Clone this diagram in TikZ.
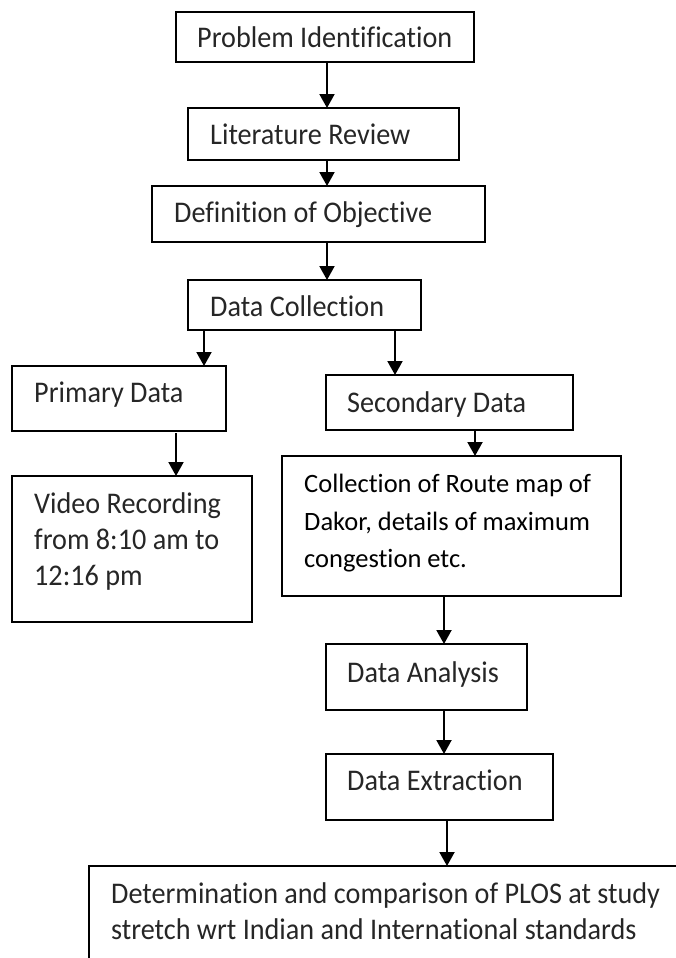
\documentclass[tikz,border=0pt]{standalone}
\usepackage{fontspec}
\setmainfont{Carlito}[FakeStretch=0.94,RawFeature={-liga;-dlig}]
\newfontfamily\calfont{Carlito}[RawFeature={-liga;-dlig}]
\usetikzlibrary{arrows.meta}
\begin{document}
\begin{tikzpicture}[x=1pt,y=-1pt,
  box/.style={draw=black, line width=1.8pt, rectangle, inner sep=0pt, outer sep=0pt, anchor=north west},
  lbl/.style={anchor=base west, inner sep=0pt, text=black!85, font=\fontsize{30}{36}\selectfont},
  lbltwo/.style={anchor=base west, inner sep=0pt, font=\calfont\fontsize{26.5}{37}\selectfont},
  arr/.style={line width=2pt, -{Triangle[length=14pt,width=15pt]}}]
\useasboundingbox (0,0) rectangle (675,958);
% boxes
\node[box, minimum width=298pt, minimum height=50pt] (pi) at (176,12) {};
\node[box, minimum width=271pt, minimum height=52pt] (lr) at (188,108) {};
\node[box, minimum width=333pt, minimum height=56pt] (def) at (152,186) {};
\node[box, minimum width=233pt, minimum height=50pt] (dc) at (188,280) {};
\node[box, minimum width=214pt, minimum height=65pt] (pd) at (12,366) {};
\node[box, minimum width=247pt, minimum height=55pt] (sd) at (326,375) {};
\node[box, minimum width=240pt, minimum height=146pt] (vr) at (12,476) {};
\node[box, minimum width=339pt, minimum height=140pt] (col) at (282,456) {};
\node[box, minimum width=201pt, minimum height=66pt] (da) at (326,644) {};
\node[box, minimum width=227pt, minimum height=66pt] (de) at (326,754) {};
\node[box, minimum width=640pt, minimum height=140pt] (det) at (89,866) {};
% labels
\node[lbl] (tpi) at (197,48) {Problem Identification};
\node[lbl] (tlr) at (210,144) {Literature Review};
\node[lbl] (tdef) at (174,222) {Definition of Objective};
\node[lbl] (tdc) at (210,316) {Data Collection};
\node[lbl] (tpd) at (34,402) {Primary Data};
\node[lbl] (tsd) at (347,412) {Secondary Data};
\node[lbl] (tvr1) at (34,513) {Video Recording};
\node[lbl] (tvr2) at (34,549) {from 8:10 am to};
\node[lbl] (tvr3) at (34,585) {12:16 pm};
\node[lbltwo] (tcol1) at (304,492) {Collection of Route map of};
\node[lbltwo] (tcol2) at (304,530) {Dakor, details of maximum};
\node[lbltwo] (tcol3) at (304,567) {congestion etc.};
\node[lbl] (tda) at (347,682) {Data Analysis};
\node[lbl] (tde) at (347,790) {Data Extraction};
\node[lbl] (tdet1) at (111,903) {Determination and comparison of PLOS at study};
\node[lbl] (tdet2) at (111,939) {stretch wrt Indian and International standards};
% arrows
\draw[arr] ([xshift=151pt]pi.south west) -- ([xshift=139pt]lr.north west);
\draw[arr] ([xshift=139pt]lr.south west) -- ([xshift=175pt]def.north west);
\draw[arr] ([xshift=175pt]def.south west) -- ([xshift=139pt]dc.north west);
\draw[arr] ([xshift=16pt]dc.south west) -- ([xshift=192pt]pd.north west);
\draw[arr] ([xshift=207pt]dc.south west) -- ([xshift=69pt]sd.north west);
\draw[arr] ([xshift=164pt,yshift=-2pt]pd.south west) -- ([xshift=164pt]vr.north west);
\draw[arr] ([xshift=149pt]sd.south west) -- ([xshift=193pt]col.north west);
\draw[arr] ([xshift=162pt]col.south west) -- ([xshift=118pt]da.north west);
\draw[arr] ([xshift=118pt]da.south west) -- ([xshift=118pt]de.north west);
\draw[arr] ([xshift=121pt]de.south west) -- ([xshift=358pt]det.north west);
\end{tikzpicture}
\end{document}
